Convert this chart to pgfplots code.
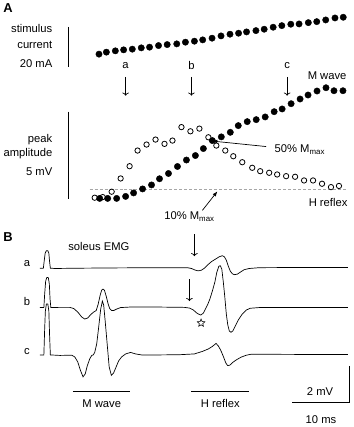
\documentclass[border=0pt]{standalone}
\usepackage{pgfplots}
\pgfplotsset{compat=1.18}
\usepackage{fontspec}
\setmainfont{Liberation Sans}
\usetikzlibrary{shapes.geometric,arrows.meta}
\begin{document}
\begin{tikzpicture}[font=\fontsize{11.3}{13}\selectfont]
\begin{axis}[scale only axis, width=355bp, height=427bp,
  xmin=0, xmax=355, ymin=0, ymax=427, y dir=reverse,
  hide axis, clip=false]
\path (axis cs:0,0) rectangle (axis cs:355,427);
% stimulus current
\addplot[only marks, mark=*, mark size=3.2pt, mark options={fill=black, draw=black}] coordinates {
(99.3,54.3)(106.7,52.3)(115.7,51)(124,50)(132.7,49.3)(141.7,48)(150,47.3)(159,45.7)(167.7,44.7)(177.3,44)
(186,42.3)(195,41.3)(203.3,40)(212.7,38.3)(221.7,36)(230.7,34.3)(239.3,33.3)(247.3,32)(256.7,30.7)(265,29.3)
(274,27.3)(282.7,25.7)(291.7,24.3)(300,24)(309.3,22.7)(317.7,21.7)(326.7,20)(336,18)(344.3,17.3)};
% dashed 10% line
\addplot[gray!70, densely dashed, line width=0.5pt] coordinates {(90,190)(347,190)};
% H reflex (open)
\addplot[only marks, mark=o, mark size=2.7pt, mark options={draw=black, fill=white, line width=0.8pt}] coordinates {
(95,198.3)(103,197.7)(112,192.3)(121,179)(130,166.7)(138,151)(147,145)(156,140)(165,144.3)(173,141)
(182,127.5)(191,131.7)(200,129)(209,137.7)(217,146)(226,151)(234,156.7)(243,162.7)(253,168.3)(261,171.7)
(270,173.3)(278,175)(287,176.7)(296,177.3)(305,181)(314,181)(323,184.3)(332,187.7)(340,186.5)};
% M wave (filled)
\addplot[only marks, mark=*, mark size=3.2pt, mark options={fill=black, draw=black}] coordinates {
(100,199)(108,199)(117,199)(126,197)(134,193.5)(143,189.5)(152,185.5)(160,179.3)(169,174)(178,167)
(187,160.5)(196,156)(204,149)(213,141)(222,137.3)(231,132.7)(239,126)(248,122)(257,120)(266,117.3)
(275,112)(283,109.3)(292,104)(301,99.3)(309,95.3)(318,91.3)(327,88)(335,91)(344,91)};
% scale bars A
\draw[line width=0.8pt] (axis cs:69,27) -- (axis cs:69,67);
\draw[line width=0.8pt] (axis cs:69,112) -- (axis cs:69,200);
\node[font=\fontsize{13}{15}\selectfont\bfseries] at (axis cs:8,8) {A};
\node[anchor=east] at (axis cs:56,29) {stimulus};
\node[anchor=east] at (axis cs:56,45) {current};
\node[anchor=east] at (axis cs:56,64) {20 mA};
\node[anchor=east] at (axis cs:56,140) {peak};
\node[anchor=east] at (axis cs:56,154) {amplitude};
\node[anchor=east] at (axis cs:56,172) {5 mV};
\node at (axis cs:126,66) {a};
\node at (axis cs:192,66) {b};
\node at (axis cs:288,66) {c};
\draw[->, line width=0.7pt] (axis cs:126,77) -- (axis cs:126,96);
\draw[->, line width=0.7pt] (axis cs:192,77) -- (axis cs:192,96);
\draw[->, line width=0.7pt] (axis cs:288,77) -- (axis cs:288,96);
\node[anchor=east] at (axis cs:351,76) {M wave};
\node[anchor=west] at (axis cs:272,150) {50\% M\textsubscript{max}};
\draw[-{Latex[length=5pt,width=4pt]}, line width=0.7pt] (axis cs:267,147) -- (axis cs:213,141.5);
\node at (axis cs:190,217) {10\% M\textsubscript{max}};
\draw[-{Latex[length=5pt,width=4pt]}, line width=0.7pt] (axis cs:203,211) -- (axis cs:218,192);
\node[anchor=east] at (axis cs:352,203) {H reflex};
% Panel B
\node[font=\fontsize{13}{15}\selectfont\bfseries] at (axis cs:8,238) {B};
\node[anchor=west] at (axis cs:65,247) {soleus EMG};
\draw[->, line width=0.7pt] (axis cs:195,235) -- (axis cs:195,257);
\draw[->, line width=0.7pt] (axis cs:190,280) -- (axis cs:190,302);
\node at (axis cs:27,264) {a};
\node at (axis cs:27,302) {b};
\node at (axis cs:27,353) {c};
\addplot[black, line width=0.7pt] coordinates {
(40,269)(43.5,269)(44.3,262)(45.3,254)(46.5,251.5)(48,251.5)(49,254)(49.7,262)(50.5,269)(55,269.3)(80,269)(120,268.7)(160,268.5)(188,268.5)(192,269.3)(196,271)(199,271.7)(202,271)(205,269)(208,266)(212,262.5)(216,260)(220,257.5)(223,256.5)(225,257.5)(227,261)(229,267)(231,272)(233,274.5)(235,275.5)(238,275)(241,273)(245,270.5)(250,269.3)(260,268.5)(300,268.3)(349,268.3)};
\addplot[black, line width=0.7pt] coordinates {
(40,308.5)(44,308.5)(44.8,295)(45.8,282)(47,278.3)(48.5,278.5)(49.5,285)(50.2,300)(51,308.5)(60,308.3)(70,308.3)(74,309.5)(78,313)(82,318)(85,320)(88,319)(91,315.5)(94,313)(96.5,311.5)(98.5,305)(100.5,296)(102,291)(103.3,290)(104.7,291)(106.5,297)(108.5,305)(110,309.5)(112,311.5)(114,311.5)(117,310)(121,308.5)(130,308)(160,308)(185,308.3)(190,309)(194,311)(198,314.5)(201.5,316)(204,314)(206.5,309)(208.5,305)(210.5,300)(213,292)(215.5,283)(217.5,273)(219.5,267)(221,266.5)(222.5,270)(224,283)(225.5,298)(227,315)(228.5,326)(230,332)(231.7,333.3)(233.5,332)(236,327)(239,321)(243,315)(247,311)(251,309.2)(260,308.5)(300,308.5)(349,308.5)};
\addplot[black, line width=0.7pt] coordinates {
(40,356)(44,356)(44.8,330)(45.5,312)(46.5,305)(48,305)(49,312)(49.7,335)(50.5,356)(60,356.5)(72,356.3)(75,358)(78,363)(80.5,371)(83.3,378)(85.5,375)(87.5,367)(90,360)(92,356.5)(93.5,356)(95,353.5)(97,345)(99,328)(101,310)(102.7,302)(104,306)(105.5,322)(107.5,345)(109.5,368)(111.7,376.5)(114,374)(116.5,368)(119,362)(122,358)(126,355)(131,353.5)(136,355)(142,356)(160,356)(180,355.8)(195,355)(203,352.5)(209,350)(213,347.5)(216.7,344.5)(219,347)(221.5,351.5)(224,357.5)(226.5,364)(228.3,366.7)(230.5,366.3)(233.5,363.5)(237,361)(241.7,358.3)(247,356.3)(252,355.3)(300,355.5)(349,355.5)};
\node[star, star points=5, star point ratio=2.2, draw, line width=0.6pt, minimum size=8pt, inner sep=0pt] at (axis cs:201.7,324) {};
\draw[line width=0.8pt] (axis cs:73,393) -- (axis cs:130,393);
\node at (axis cs:102,405) {M wave};
\draw[line width=0.8pt] (axis cs:192,393) -- (axis cs:250,393);
\node at (axis cs:221,405) {H reflex};
\draw[line width=0.8pt] (axis cs:350,367) -- (axis cs:350,404) -- (axis cs:293,404);
\node at (axis cs:321,393) {2 mV};
\node at (axis cs:322,421) {10 ms};
\end{axis}
\end{tikzpicture}
\end{document}
